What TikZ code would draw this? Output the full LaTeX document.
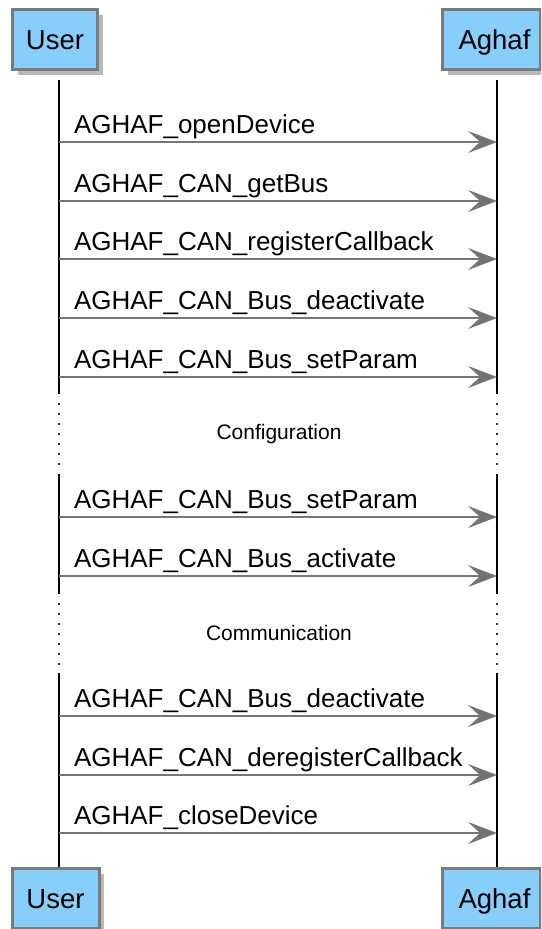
\documentclass[tikz,border=0pt]{standalone}
\usepackage{fontspec}
\setmainfont{Liberation Sans}
\usetikzlibrary{arrows.meta,shadows}
\definecolor{partfill}{RGB}{135,206,250}
\definecolor{partborder}{RGB}{122,122,122}
\definecolor{msgcol}{RGB}{118,118,118}
\begin{document}
\begin{tikzpicture}[x=1pt,y=-1pt,
  part/.style={rectangle, draw=partborder, fill=partfill, line width=3pt,
    minimum height=60pt, inner sep=0pt, text=black,
    text height=26pt, text depth=6pt,
    font=\fontsize{27.5}{32}\selectfont,
    drop shadow={shadow xshift=5pt, shadow yshift=-5pt, fill=black, opacity=0.28}},
  life/.style={line width=2pt, black},
  gap/.style={line width=2pt, black!80, dash pattern=on 2pt off 8pt},
  msg/.style={line width=2pt, draw=msgcol,
    -{Stealth[length=29pt,width=22pt,inset=12pt,fill=msgcol!95!black]}},
  lbl/.style={anchor=base west, xshift=14pt, yshift=9pt, inner sep=0pt,
    font=\fontsize{26}{30}\selectfont},
  divtxt/.style={font=\fontsize{21}{25}\selectfont, inner sep=0pt}]
\useasboundingbox (0,0) rectangle (541,929);
\clip (0,0) rectangle (541,929);

% participants, top and bottom
\node[part, minimum width=85pt] (uTop) at (55,39.5) {User};
\node[part, minimum width=98pt] (aTop) at (491.5,39.5) {\hspace{6pt}Aghaf};
\node[part, minimum width=87pt] (uBot) at (55.5,898.5) {User};
\node[part, minimum width=98pt] (aBot) at (491.5,898.5) {\hspace{6pt}Aghaf};

% lifelines, interrupted by the two dotted gaps
\foreach \s/\xx in {u/59, a/497} {
  \coordinate (\s L0) at (\xx,80);
  \coordinate (\s L1) at (\xx,394);
  \coordinate (\s L2) at (\xx,403);
  \coordinate (\s L3) at (\xx,467);
  \coordinate (\s L4) at (\xx,474);
  \coordinate (\s L5) at (\xx,594);
  \coordinate (\s L6) at (\xx,603);
  \coordinate (\s L7) at (\xx,666);
  \coordinate (\s L8) at (\xx,673);
}
\coordinate (uL9) at (uBot.north -| uL0);
\coordinate (aL9) at (aBot.north -| aL0);
\foreach \s in {u,a} {
  \draw[life] (\s L0) -- (\s L1);
  \draw[gap] (\s L2) -- (\s L3);
  \draw[life] (\s L4) -- (\s L5);
  \draw[gap] (\s L6) -- (\s L7);
  \draw[life] (\s L8) -- (\s L9);
}

% section dividers
\node[divtxt] (cfg) at (279,434) {Configuration};
\node[divtxt] (com) at (279,633) {Communication};

% messages
\foreach \i/\yy/\txt in {
  1/142/AGHAF\_openDevice,
  2/201/AGHAF\_CAN\_getBus,
  3/259/AGHAF\_CAN\_registerCallback,
  4/318/AGHAF\_CAN\_Bus\_deactivate,
  5/377/AGHAF\_CAN\_Bus\_setParam,
  6/517/AGHAF\_CAN\_Bus\_setParam,
  7/576/AGHAF\_CAN\_Bus\_activate,
  8/716/AGHAF\_CAN\_Bus\_deactivate,
  9/775/AGHAF\_CAN\_deregisterCallback,
  10/833/AGHAF\_closeDevice} {
  \coordinate (m\i u) at (59,\yy);
  \coordinate (m\i a) at (497,\yy);
  \draw[msg] (m\i u) -- (m\i a) node[pos=0, lbl] {\txt};
}
\end{tikzpicture}
\end{document}
